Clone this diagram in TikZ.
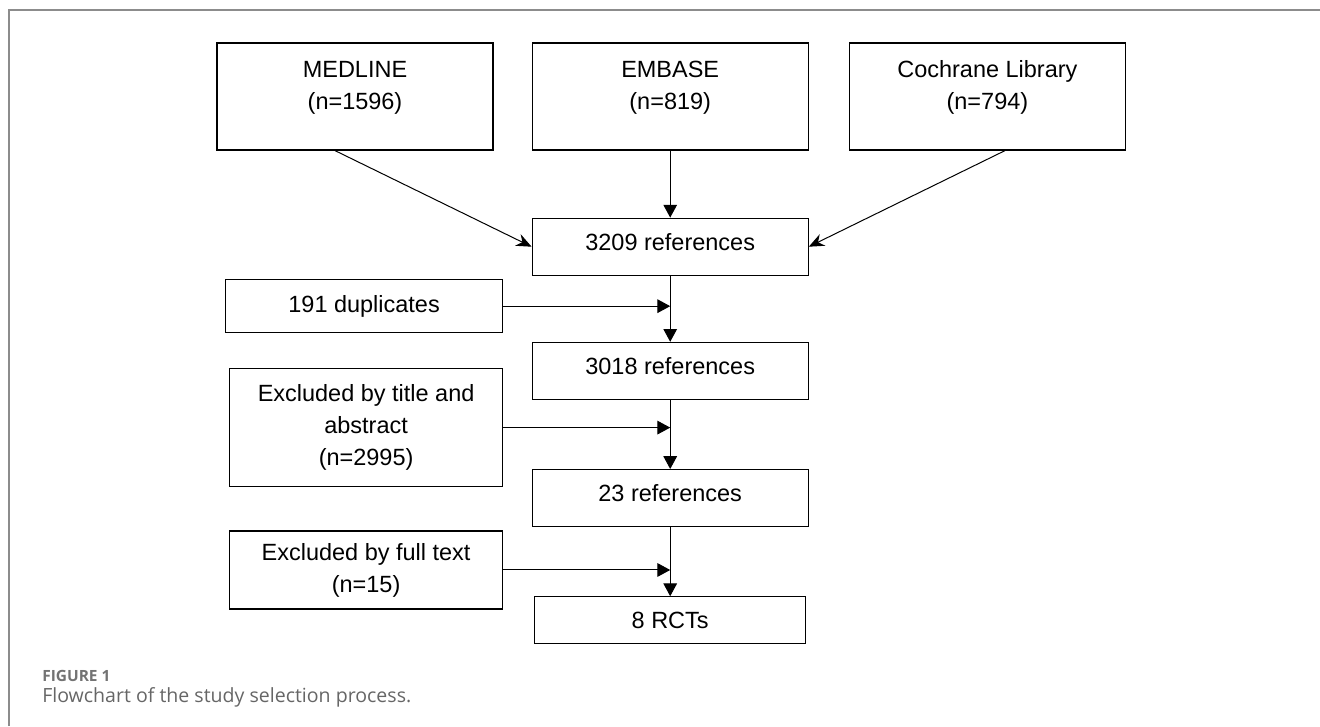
\documentclass[tikz,border=0pt]{standalone}
\usepackage{fontspec}
\setmainfont{Liberation Sans}
\newfontfamily\capfont{Open Sans}
\usepackage{tikz}
\usetikzlibrary{arrows.meta, positioning, calc}

\begin{document}
\begin{tikzpicture}[
    font=\fontsize{16.7pt}{22.8pt}\selectfont,
    dbbox/.style={draw, line width=0.3mm, align=center, minimum width=69mm, minimum height=26.75mm, text depth=5.75mm},
    flowbox/.style={draw, line width=0.3mm, align=center, minimum width=69mm, minimum height=14.25mm, text depth=2.5mm},
    exclbox/.style={draw, line width=0.3mm, align=center, minimum width=68.25mm},
    arrow/.style={-{Triangle[length=3.2mm, width=3.4mm]}, line width=0.25mm},
    diag/.style={-{Stealth[length=3.8mm, width=3.2mm]}, line width=0.25mm}
]
  \useasboundingbox (0,0) rectangle (330mm,-181.5mm);
  \draw[black!45, line width=0.4mm] (2.25mm,-181.5mm) -- (2.25mm,-2.5mm) -- (330mm,-2.5mm);

  \node[dbbox] (med) at (88.75mm,-24.125mm) {MEDLINE\\(n=1596)};
  \node[dbbox, right=9.5mm of med] (emb) {EMBASE\\(n=819)};
  \node[dbbox, right=10mm of emb] (coch) {Cochrane Library\\(n=794)};

  \node[flowbox, below=16.75mm of emb] (r1) {3209 references};
  \node[flowbox, below=16.5mm of r1] (r2) {3018 references};
  \node[flowbox, below=17.25mm of r2] (r3) {23 references};
  \node[flowbox, below=17.25mm of r3, minimum width=67.75mm, minimum height=11.75mm, text depth=0pt] (rcts) {8 RCTs};

  \draw[diag] ([xshift=-5mm]med.south) -- (r1.west);
  \draw[arrow] (emb) -- (r1);
  \draw[diag] ([xshift=4.4mm]coch.south) -- (r1.east);

  \coordinate (j1) at ($(r1.south)!0.46!(r2.north)$);
  \coordinate (j2) at ($(r2.south)!0.4!(r3.north)$);
  \coordinate (j3) at ($(r3.south)!0.62!(rcts.north)$);

  \node[exclbox, left=41.75mm of j1, minimum width=69.25mm, minimum height=13.25mm] (dup) {191 duplicates};
  \node[exclbox, left=41.75mm of j2, minimum height=29.5mm] (extitle) {Excluded by title and\\abstract\\(n=2995)};
  \node[exclbox, left=41.75mm of j3, minimum height=19.5mm] (exfull) {Excluded by full text\\(n=15)};

  \draw[arrow] (r1) -- (r2);
  \draw[arrow] (r2) -- (r3);
  \draw[arrow] (r3) -- (rcts);
  \draw[arrow] (dup) -- (j1);
  \draw[arrow] (extitle) -- (j2);
  \draw[arrow] (exfull) -- (j3);

  \node[anchor=base west, inner sep=0pt, text=black!55, font=\capfont\bfseries\fontsize{11pt}{13pt}\selectfont] (fig) at (10.5mm,-170.25mm) {FIGURE 1};
  \node[anchor=base west, inner sep=0pt, text=black!60, font=\capfont\fontsize{13.9pt}{16pt}\selectfont] (cap) at (10.5mm,-175.5mm) {Flowchart of the study selection process.};
\end{tikzpicture}
\end{document}
